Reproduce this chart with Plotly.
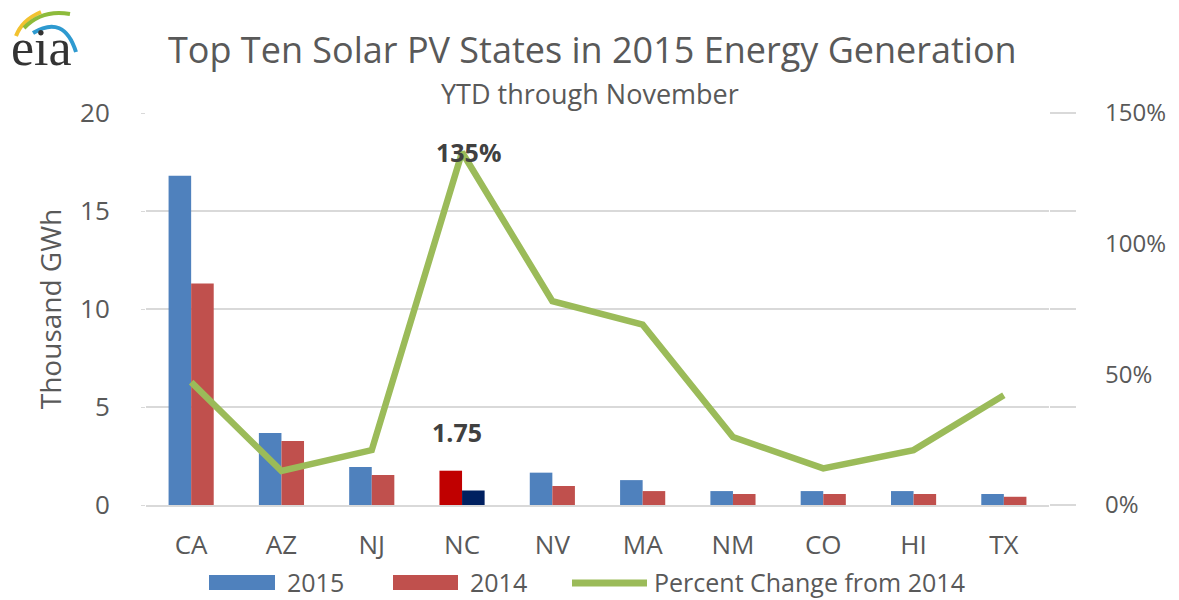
import plotly.graph_objects as go

states = ["CA", "AZ", "NJ", "NC", "NV", "MA", "NM", "CO", "HI", "TX"]
gen_2015 = [16.8, 3.67, 1.94, 1.75, 1.65, 1.27, 0.71, 0.71, 0.71, 0.56]
gen_2014 = [11.3, 3.27, 1.53, 0.74, 0.97, 0.71, 0.56, 0.56, 0.56, 0.42]
pct_change = [47, 13, 21, 135, 78, 69, 26, 14, 21, 42]
left_ticks = [0, 5, 10, 15, 20]
right_ticks = [0, 50, 100, 150]
right_labels = [f"{v}%" for v in right_ticks]
series_names = ["2015", "2014", "Percent Change from 2014"]
highlight = "NC"

BLUE, RED, GREEN = "#4F81BD", "#C0504D", "#9BBB59"
HL_2015, HL_2014 = "#C00000", "#002060"
GRID = "#D9D9D9"
TXT = "#595959"
FONT = "Open Sans"

c2015 = [HL_2015 if s == highlight else BLUE for s in states]
c2014 = [HL_2014 if s == highlight else RED for s in states]

# The page body adds an 8px offset; figure is sized to fit the window.
OFF = 8
W, H = 1179 - OFF, 600 - OFF
# plot area in window pixels
PX0, PX1, PY0, PY1 = 146, 1049, 113, 505
L, T = PX0 - OFF, PY0 - OFF
R, B = W - (PX1 - OFF), H - (PY1 - OFF)
PW, PH = PX1 - PX0, PY1 - PY0


def px(x):
    return (x - PX0) / PW


def py(y):
    return (PY1 - y) / PH


fig = go.Figure()
fig.add_bar(x=states, y=gen_2015, name=series_names[0],
            marker=dict(color=c2015, line=dict(width=0)), yaxis="y")
fig.add_bar(x=states, y=gen_2014, name=series_names[1],
            marker=dict(color=c2014, line=dict(width=0)), yaxis="y")
fig.add_scatter(x=states, y=pct_change, name=series_names[2], mode="lines",
                line=dict(color=GREEN, width=6.5), yaxis="y2")
# invisible trace for the mirrored right tick marks
fig.add_scatter(x=states, y=gen_2015, yaxis="y3", mode="lines",
                line=dict(color="rgba(0,0,0,0)"), showlegend=False, hoverinfo="skip")

hi = states.index(highlight)
fig.add_annotation(x=states[hi], y=pct_change[hi], yref="y2", text=f"<b>{pct_change[hi]}%</b>",
                   showarrow=False, font=dict(family=FONT, size=25, color="#404040"),
                   yanchor="middle", xshift=6)
fig.add_annotation(x=states[hi], y=gen_2015[hi], yref="y", text=f"<b>{gen_2015[hi]:.2f}</b>",
                   showarrow=False, font=dict(family=FONT, size=25, color="#404040"),
                   yanchor="bottom", yshift=20, xshift=-5)

# title and subtitle
fig.add_annotation(xref="paper", yref="paper", x=px(592), y=py(50),
                   text="Top Ten Solar PV States in 2015 Energy Generation",
                   showarrow=False, font=dict(family=FONT, size=36, color=TXT),
                   xanchor="center", yanchor="middle")
fig.add_annotation(xref="paper", yref="paper", x=px(590), y=py(94),
                   text="YTD through November",
                   showarrow=False, font=dict(family=FONT, size=27, color=TXT),
                   xanchor="center", yanchor="middle")

# eia logo
fig.add_annotation(xref="paper", yref="paper", x=px(41), y=py(47), text="eia",
                   showarrow=False, font=dict(family="Liberation Serif", size=52, color="#333333"),
                   xanchor="center", yanchor="middle")
arcs = [
    ("#F2C230", [(16, 36), (22, 20), (41, 12)]),
    ("#8DBB3B", [(24, 28), (42, 9), (70, 14)]),
    ("#2E9AD0", [(33, 33), (64, 14), (76, 52)]),
]
for col, pts in arcs:
    (x0, y0), (x1, y1), (x2, y2) = pts
    path = f"M {px(x0)},{py(y0)} Q {px(x1)},{py(y1)} {px(x2)},{py(y2)}"
    fig.add_shape(type="path", xref="paper", yref="paper", path=path,
                  line=dict(color=col, width=4))

# custom legend (wide swatches as in the original)
LEG_Y = 582
legend_items = [
    (series_names[0], BLUE, "rect", 209, 275, 285),
    (series_names[1], RED, "rect", 393, 458, 468),
    (series_names[2], GREEN, "line", 572, 647, 652),
]
for name, col, kind, sx0, sx1, tx in legend_items:
    if kind == "rect":
        fig.add_shape(type="rect", xref="paper", yref="paper",
                      x0=px(sx0), x1=px(sx1), y0=py(LEG_Y - 7), y1=py(LEG_Y + 8),
                      fillcolor=col, line=dict(width=0))
    else:
        fig.add_shape(type="line", xref="paper", yref="paper",
                      x0=px(sx0), x1=px(sx1), y0=py(LEG_Y + 1), y1=py(LEG_Y + 1),
                      line=dict(color=col, width=7))
    fig.add_annotation(xref="paper", yref="paper", x=px(tx), y=py(LEG_Y), text=name,
                       showarrow=False, font=dict(family=FONT, size=25, color=TXT),
                       xanchor="left", yanchor="middle")

fig.update_layout(
    width=W, height=H,
    margin=dict(l=L, r=R, t=T, b=B, autoexpand=False),
    paper_bgcolor="white", plot_bgcolor="white",
    font=dict(family=FONT, color=TXT),
    barmode="group", bargap=0.5, bargroupgap=0,
    showlegend=False,
    xaxis=dict(showgrid=False, showline=True, linecolor=GRID, linewidth=1.5,
               tickfont=dict(size=26, color=TXT), ticks="", ticklabelstandoff=16),
    yaxis=dict(range=[0, 20], tickvals=left_ticks, showgrid=True, gridcolor=GRID,
               gridwidth=1.5, zeroline=False, tickfont=dict(size=26, color=TXT),
               ticks="outside", ticklen=4, tickcolor=GRID, ticklabelstandoff=26,
               title=dict(text="Thousand GWh", font=dict(size=28, color=TXT), standoff=10)),
    yaxis2=dict(range=[0, 150], tickvals=right_ticks, ticktext=right_labels, overlaying="y",
                side="right", showgrid=False, zeroline=False, ticks="",
                tickfont=dict(size=24, color=TXT), ticklabelstandoff=55),
    yaxis3=dict(range=[0, 20], tickvals=left_ticks, overlaying="y", side="right",
                showgrid=False, zeroline=False, showticklabels=False,
                ticks="outside", ticklen=26, tickcolor=GRID, tickwidth=1.5),
)

fig.write_html("out.html")
